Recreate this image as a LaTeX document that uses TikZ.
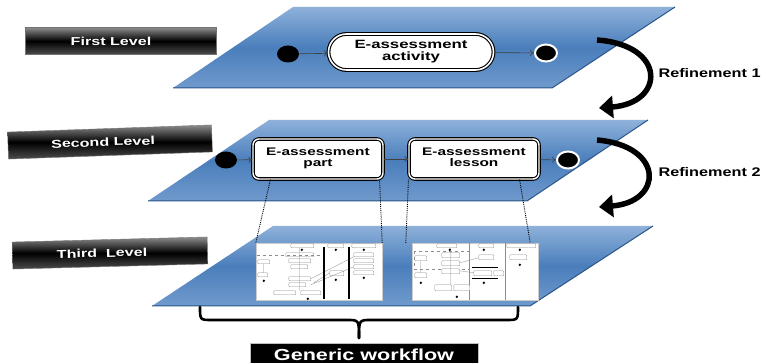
\documentclass[tikz,border=0pt]{standalone}
\usepackage{fontspec}
\setmainfont{Liberation Sans}
\usepackage{graphicx}
\usetikzlibrary{shapes.geometric, arrows.meta}

\definecolor{planetop}{HTML}{8EB1DA}
\definecolor{planemid}{HTML}{4A7EBB}
\definecolor{planebot}{HTML}{709ACD}
\definecolor{planeedge}{HTML}{2B5589}

\newcommand{\stretchtext}[2][1.4]{\scalebox{#1}[1]{#2}}
\newcommand{\twolines}[2]{\stretchtext{\begin{tabular}{@{}c@{}}#1\\#2\end{tabular}}}
\renewcommand{\arraystretch}{0.9}

\begin{document}
\begin{tikzpicture} [
  y=-1pt,
  x=1pt,
  plane/.style={top color=planetop, bottom color=planebot, middle color=planemid},
  planeline/.style={draw=planeedge, line width=1pt},
  level/.style={rectangle, draw=black!55, top color=black!45, bottom color=black!70, middle color=black, text=white, minimum height=27pt, inner sep=0pt, font=\bfseries\fontsize{11.5}{12}\selectfont},
  activity/.style={rectangle, rounded corners=18pt, draw, double=white, double distance=1.6pt, line width=1.1pt, fill=white, minimum width=165pt, minimum height=36pt, inner sep=0pt, font=\bfseries\fontsize{12}{13}\selectfont},
  unit/.style={rectangle, rounded corners=6pt, draw, double=white, double distance=1.4pt, line width=1.1pt, fill=white, minimum width=130pt, minimum height=40pt, inner sep=0pt, font=\bfseries\fontsize{11}{12}\selectfont},
  start/.style={ellipse, fill=black, minimum width=22pt, minimum height=17pt, inner sep=0pt},
  stop/.style={ellipse, fill=black, draw=white, line width=2pt, minimum width=22pt, minimum height=17pt, inner sep=0pt},
  flow/.style={-{To[length=4pt,width=6pt]}, draw=black!75, line width=0.6pt},
  link/.style={densely dotted, draw=black, line width=0.9pt},
  shot/.style={rectangle, fill=white, draw=black!20, minimum width=126pt, minimum height=57pt, inner sep=0pt},
  mini/.style={draw=black!45, line width=0.35pt, fill=white, rounded corners=0.8pt},
  thin/.style={draw=black!45, line width=0.3pt},
  refine/.style={line width=5.5pt, -{Triangle[length=14pt,width=22pt]}},
  reflabel/.style={anchor=west, font=\bfseries\fontsize{12.5}{13}\selectfont},
  brace/.style={line width=2.6pt, line cap=round},
  caption/.style={rectangle, fill=black, draw=black!25, text=white, minimum width=228pt, minimum height=24pt, inner sep=0pt, font=\bfseries\fontsize{16}{17}\selectfont}
  ]
  \useasboundingbox (0,0) rectangle (761,363);

  \shade[plane] (173,88) -- (293,7) -- (675,7) -- (552,88) -- cycle;
  \draw[planeline] (173,88) -- (552,88) -- (675,7);
  \shade[plane] (148,201) -- (269,120) -- (648,120) -- (527,201) -- cycle;
  \draw[planeline] (148,201) -- (527,201) -- (648,120);
  \shade[plane] (152,306) -- (273,226) -- (653,226) -- (530,306) -- cycle;
  \draw[planeline] (152,306) -- (530,306) -- (653,226);

  \node(lvl1)[level, minimum width=191pt, at={(121,41)}]{\stretchtext{First Level}\hspace*{20pt}};
  \node(lvl2)[level, minimum width=204pt, rotate=2, at={(110,142)}]{\stretchtext{Second Level}\hspace*{14pt}};
  \node(lvl3)[level, minimum width=195pt, rotate=1.5, at={(110,253)}]{\stretchtext{Third\ \ Level}\hspace*{16pt}};

  \node(init1)[start, at={(288,54)}]{};
  \node(act)[activity, at={(411,52)}]{\twolines{E-assessment}{activity}};
  \node(fin1)[stop, at={(546,53)}]{};
  \draw[flow] (init1) -- (act);
  \draw[flow] (act) -- (fin1);

  \node(init2)[start, at={(226,160)}]{};
  \node(part)[unit, at={(318,159)}]{\twolines{E-assessment}{part}};
  \node(lesson)[unit, at={(474,159)}]{\twolines{E-assessment}{lesson}};
  \node(fin2)[stop, at={(568,160)}]{};
  \draw[flow] (init2) -- (part);
  \draw[flow] (part) -- (lesson);
  \draw[flow] (lesson) -- (fin2);

  \node(wf1)[shot, at={(319,271.5)}]{};
  \node(wf2)[shot, at={(475,271.5)}]{};

  \begin{scope}[shift={(wf1.north west)}]
    \foreach \a/\b/\c/\d in {35/1/58/5, 72/1/88/5, 96/1/120/5, 30/10/58/14, 33/16/55/20, 35/22/52/26, 33/34/55/38, 33/40/50/44, 18/48/40/52, 45/48/65/52, 2/17/14/21, 2/30/12/34, 98/10/118/14, 98/16/118/20, 98/22/118/26, 98/28/118/32, 74/28/88/33}
      \draw[mini] (\a,\b) rectangle (\c,\d);
    \draw[thin, dashed] (1,12) -- (68,12);
    \draw[thin] (55,36) -- (98,14) (55,42) -- (98,24) (58,40) -- (74,30) (8,21) -- (8,30) (44,5) -- (44,48);
    \draw[line width=1.6pt] (68,4) -- (68,56) (93,4) -- (93,56);
    \foreach \p/\q in {46/7, 80/7, 108/7, 8/38, 52/56, 80/37, 108/35}
      \fill (\p,\q) circle (1.3pt);
  \end{scope}

  \begin{scope}[shift={(wf2.north west)}]
    \draw[thin] (57,0) -- (57,57) (93,0) -- (93,57);
    \draw[thin, dashed] (2,8) rectangle (57,26);
    \foreach \a/\b/\c/\d in {25/1/45/5, 67/1/82/5, 95/1/124/5, 30/10/48/15, 30/18/48/23, 30/26/48/31, 3/13/15/18, 3/30/15/35, 23/42/40/48, 42/42/58/48, 62/28/80/33, 82/28/92/33, 67/12/82/17, 98/12/115/17}
      \draw[mini] (\a,\b) rectangle (\c,\d);
    \draw[thin] (48,28) -- (62,30) (48,20) -- (67,15) (9,18) -- (9,30) (39,5) -- (39,42);
    \draw[line width=1.2pt] (60,25) -- (86,25) (60,36) -- (86,36);
    \foreach \p/\q in {38/7, 72/7, 108/7, 9/40, 72/40, 45/54, 108/22}
      \fill (\p,\q) circle (1.3pt);
  \end{scope}

  \draw[link] ([xshift=18pt]part.south west) -- (wf1.north west);
  \draw[link] ([xshift=-4pt]part.south east) -- (wf1.north east);
  \draw[link] (lesson.south west) -- ([xshift=-6pt]wf2.north west);
  \draw[link] ([xshift=-20pt]lesson.south east) -- ([xshift=-8pt]wf2.north east);

  \coordinate(r1a) at (597,40);
  \coordinate(r1b) at (599,108);
  \coordinate(r2a) at (597,140);
  \coordinate(r2b) at (599,207);
  \draw[refine] (r1a) .. controls (667,45) and (665,103) .. (r1b);
  \draw[refine] (r2a) .. controls (665,146) and (663,202) .. (r2b);
  \node(ref1)[reflabel, at={(655,73)}]{\stretchtext[1.3]{Refinement 1}};
  \node(ref2)[reflabel, at={(655,172)}]{\stretchtext[1.3]{Refinement 2}};

  \node(generic)[caption, at={(364,355)}]{\stretchtext[1.35]{Generic workflow}};
  \coordinate(bl) at (200,307);
  \coordinate(br) at (518,307);
  \coordinate(btip) at (359,338);
  \draw[brace] (bl) .. controls (200,320) .. (212,320) -- (347,320) .. controls (359,320) .. (btip);
  \draw[brace] (br) .. controls (518,320) .. (506,320) -- (371,320) .. controls (359,320) .. (btip);
\end{tikzpicture}
\end{document}
